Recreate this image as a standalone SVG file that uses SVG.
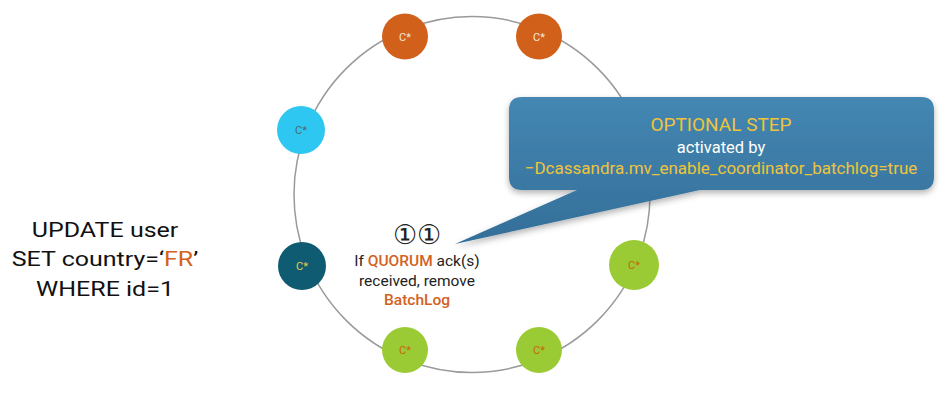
<svg xmlns="http://www.w3.org/2000/svg" width="945" height="401" viewBox="0 0 945 401">
<defs>
<linearGradient id="boxg" x1="0" y1="0" x2="0" y2="1">
<stop offset="0" stop-color="#4487b3"/>
<stop offset="1" stop-color="#336e98"/>
</linearGradient>
<filter id="sh" x="-10%" y="-10%" width="120%" height="130%">
<feDropShadow dx="0" dy="3" stdDeviation="3" flood-color="#000" flood-opacity="0.3"/>
</filter>
</defs>
<style>
text{font-family:Roboto,"Liberation Sans",sans-serif}
.c{font-size:11px;text-anchor:middle}
.sql{font-size:20.5px;fill:#111;text-anchor:middle}
.mid{font-size:15.5px;fill:#222;text-anchor:middle}
.hl{fill:#d2621e;font-weight:500}
</style>
<rect width="945" height="401" fill="#fff"/>
<g id="connectors">
<circle cx="472" cy="194.5" r="178" fill="none" stroke="#9a9a9a" stroke-width="1.5"/>
</g>
<g id="node-top-left"><circle cx="405" cy="36.5" r="23" fill="#d1601a"/><text class="c" x="405" y="40.5" fill="#f3e6dc">C*</text></g>
<g id="node-top-right"><circle cx="539" cy="36.5" r="23" fill="#d1601a"/><text class="c" x="539" y="40.5" fill="#f3e6dc">C*</text></g>
<g id="node-cyan"><circle cx="301" cy="130" r="24" fill="#2ec7f2"/><text class="c" x="301" y="134" fill="#4a6a70">C*</text></g>
<g id="node-coordinator"><circle cx="302" cy="266" r="24" fill="#0e5b72"/><text class="c" x="302" y="270" fill="#e6cf3a">C*</text></g>
<g id="node-right"><circle cx="634" cy="265" r="25" fill="#9bcb34"/><text class="c" x="634" y="269" fill="#c8650f">C*</text></g>
<g id="node-bottom-left"><circle cx="405" cy="350" r="23" fill="#9bcb34"/><text class="c" x="405" y="354" fill="#c8650f">C*</text></g>
<g id="node-bottom-right"><circle cx="539" cy="350" r="23" fill="#9bcb34"/><text class="c" x="539" y="354" fill="#c8650f">C*</text></g>
<g id="callout">
<path d="M522,97 H921 Q934,97 934,110 V177 Q934,190 921,190 H700 L455,244 L577,190 H522 Q509,190 509,177 V110 Q509,97 522,97 Z" fill="url(#boxg)" filter="url(#sh)"/>
<text x="721" y="131" font-size="19" fill="#efc43a" text-anchor="middle">OPTIONAL STEP</text>
<text x="721" y="153" font-size="16.5" fill="#ffffff" text-anchor="middle">activated by</text>
<text x="721" y="174" font-size="17" fill="#efc43a" text-anchor="middle">−Dcassandra.mv_enable_coordinator_batchlog=true</text>
</g>
<g id="query" transform="translate(105,0) scale(1.22,1)">
<text class="sql" x="0" y="237">UPDATE user</text>
<text class="sql" x="0" y="266">SET country=‘<tspan fill="#d2621e">FR</tspan>’</text>
<text class="sql" x="0" y="296">WHERE id=1</text>
</g>
<g id="step-label">
<text x="417" y="244" font-size="27" fill="#222" text-anchor="middle">①①</text>
<text class="mid" x="417" y="266">If <tspan class="hl">QUORUM</tspan> ack(s)</text>
<text class="mid" x="417" y="286">received, remove</text>
<text class="mid hl" x="417" y="305">BatchLog</text>
</g>
</svg>
